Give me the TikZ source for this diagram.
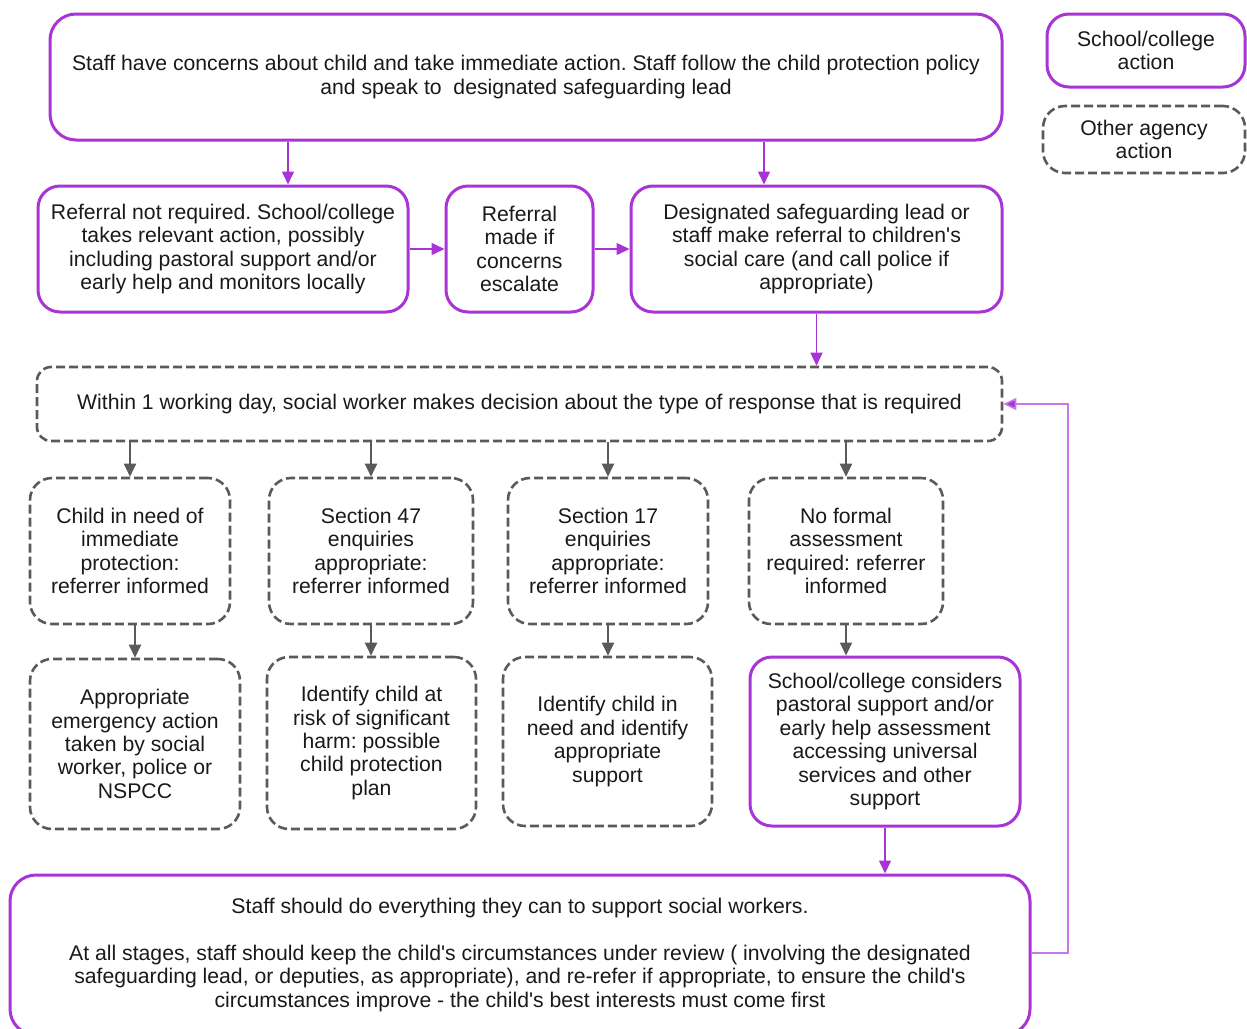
\documentclass[tikz,border=0pt]{standalone}
\usepackage{fontspec}
\setmainfont{Liberation Sans}
\usetikzlibrary{arrows.meta}
\definecolor{pur}{RGB}{168,52,214}
\definecolor{lpur}{RGB}{200,120,235}
\definecolor{gry}{RGB}{90,90,90}
\definecolor{txt}{RGB}{25,25,25}
\newcommand{\apo}{\textquotesingle}
\begin{document}
\frenchspacing
\begin{tikzpicture}[x=1pt,y=-1pt,
  box/.style={rounded corners=22pt, align=center, font=\fontsize{21.2}{23.4}\selectfont, text=txt, inner sep=0pt},
  pbox/.style={box, draw=pur, line width=3pt},
  gbox/.style={box, draw=gry, line width=2.6pt, dash pattern=on 9pt off 4pt},
  parr/.style={draw=pur, line width=1.5pt, -{Triangle[length=13pt,width=12pt]}},
  garr/.style={draw=gry, line width=2pt, -{Triangle[length=13pt,width=12pt]}},
]
\useasboundingbox (0,0) rectangle (1247,1028);
\clip (0,0) rectangle (1247,1028);

% legend
\node[pbox, minimum width=198pt, minimum height=73pt] (leg1) at (1146,50.5) {School/college\\action};
\node[gbox, minimum width=202pt, minimum height=67pt] (leg2) at (1144,139.5) {Other agency\\action};

% top
\node[pbox, rounded corners=26pt, minimum width=952pt, minimum height=126pt] (top) at (526,77)
  {Staff have concerns about child and take immediate action. Staff follow the child protection policy\\and speak to~ designated safeguarding lead};

% row 2
\node[pbox, minimum width=370pt, minimum height=126pt] (A) at (223,249)
  {Referral not required. School/college\\takes relevant action, possibly\\including pastoral support and/or\\early help and monitors locally};
\node[pbox, minimum width=147pt, minimum height=126pt] (B) at (519.5,249)
  {Referral\\made if\\concerns\\escalate};
\node[pbox, minimum width=371pt, minimum height=126pt] (C) at (816.5,249)
  {Designated safeguarding lead or\\staff make referral to children\apo s\\social care (and call police if\\appropriate)};

% decision
\node[gbox, rounded corners=14pt, minimum width=965pt, minimum height=74pt] (dec) at (519.5,404)
  {Within 1 working day, social worker makes decision about the type of response that is required};

% row 3
\node[gbox, minimum width=200pt, minimum height=146pt] (D1) at (130,551)
  {Child in need of\\immediate\\protection:\\referrer informed};
\node[gbox, minimum width=204pt, minimum height=146pt] (D2) at (371,551)
  {Section 47\\enquiries\\appropriate:\\referrer informed};
\node[gbox, minimum width=200pt, minimum height=146pt] (D3) at (608,551)
  {Section 17\\enquiries\\appropriate:\\referrer informed};
\node[gbox, minimum width=194pt, minimum height=146pt] (D4) at (846,551)
  {No formal\\assessment\\required: referrer\\informed};

% row 4
\node[gbox, minimum width=210pt, minimum height=170pt] (E1) at (135,744)
  {Appropriate\\emergency action\\taken by social\\worker, police or\\NSPCC};
\node[gbox, minimum width=209pt, minimum height=172pt] (E2) at (371.5,743)
  {Identify child at\\risk of significant\\harm: possible\\child protection\\plan};
\node[gbox, minimum width=209pt, minimum height=169pt] (E3) at (607.5,741.5)
  {Identify child in\\need and identify\\appropriate\\support};
\node[pbox, minimum width=270pt, minimum height=169pt] (E4) at (885,741.5)
  {School/college considers\\pastoral support and/or\\early help assessment\\accessing universal\\services and other\\support};

% bottom
\node[pbox, rounded corners=26pt, minimum width=1020pt, minimum height=160pt] (bot) at (520,955)
  {Staff should do everything they can to support social workers.\\[23.4pt]At all stages, staff should keep the child\apo s circumstances under review ( involving the designated\\safeguarding lead, or deputies, as appropriate), and re-refer if appropriate, to ensure the child\apo s\\circumstances improve - the child\apo s best interests must come first};

% connectors
\coordinate (xa) at (288,0);
\coordinate (xc) at (764,0);
\draw[parr] (top.south -| xa) -- (A.north -| xa);
\draw[parr] (top.south -| xc) -- (C.north -| xc);
\draw[parr] (A.east) -- (B.west);
\draw[parr] (B.east) -- (C.west);
\draw[parr] (C.south) -- (dec.north -| C);

\draw[garr] (dec.south -| D1) -- (D1.north);
\draw[garr] (dec.south -| D2) -- (D2.north);
\draw[garr] (dec.south -| D3) -- (D3.north);
\draw[garr] (dec.south -| D4) -- (D4.north);
\draw[garr] (D1.south -| E1) -- (E1.north);
\draw[garr] (D2.south) -- (E2.north -| D2);
\draw[garr] (D3.south) -- (E3.north -| D3);
\draw[garr] (D4.south) -- (E4.north -| D4);

\draw[parr] (E4.south) -- (bot.north -| E4);

\coordinate (fb) at (1068,953);
\draw[draw=lpur, line width=1.6pt, arrows={-{Triangle[length=13pt,width=12pt,fill=pur]}}]
  (bot.east |- fb) -- (fb) |- (dec.east);
\end{tikzpicture}
\end{document}
